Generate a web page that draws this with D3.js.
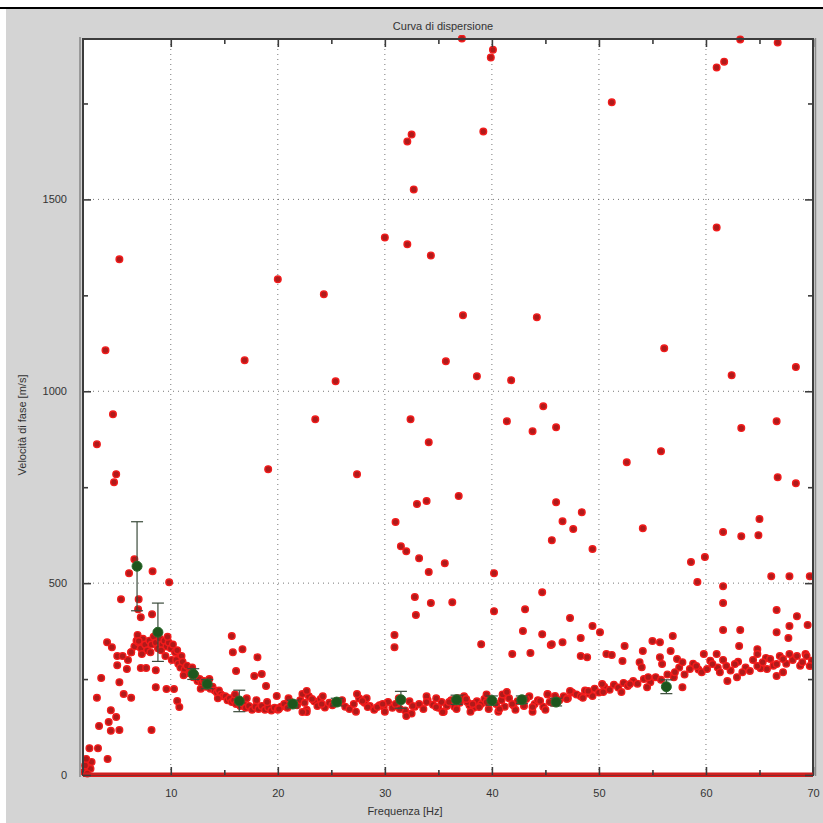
<!DOCTYPE html>
<html><head><meta charset="utf-8">
<script src="https://cdn.jsdelivr.net/npm/d3@7"></script>
<style>body{margin:0;background:#fff;}svg{display:block;}</style>
</head><body>
<script>
// ---------- DATA ----------
const title = "Curva di dispersione";
const xLabel = "Frequenza [Hz]";
const yLabel = "Velocità di fase [m/s]";
const xDomain = [1.8, 70];
const yDomain = [0, 1918];
const xMajorTicks = [10, 20, 30, 40, 50, 60, 70];
const xMinorTicks = [15, 25, 35, 45, 55, 65];
const yMajorTicks = [0, 500, 1000, 1500];
const yMinorTicks = [250, 750, 1250, 1750];
const xGrid = [10, 20, 30, 40, 50, 60];
const yGrid = [500, 1000, 1500];

// scattered picks (frequency Hz, velocity m/s)
const outlierF = [37.2,39.9,40.1,63.2,66.7,61.0,61.7,51.2,32.1,32.5,39.2,32.7,30.0,32.1,34.3,5.2,61.0,20.0,24.3,37.3,44.2,3.9,56.1,16.9,35.7,62.4,68.4,25.4,38.6,41.8,4.6,23.5,32.4,41.4,44.8,43.8,46.0,63.3,66.6,34.1,3.1,4.9,4.7,19.1,27.4,36.9,52.6,55.8,66.7,68.4,
  33.0,33.9,31.0,31.5,32.0,33.2,34.1,35.6,40.2,45.6,32.8,34.3,36.3,32.9,40.2,30.9,30.9,39.0,44.7,43.1,42.9,44.7,45.5,41.9,43.6,
  46.0,46.6,47.6,48.4,49.4,54.1,65.0,61.6,63.3,64.9,58.6,59.9,59.2,61.6,61.6,66.1,67.8,69.7,66.6,68.5,67.8,69.5,66.6,67.7,61.6,63.2,63.1,64.8,59.8,61.0,
  45.6,46.6,47.3,48.3,49.4,50.1,48.3,48.9,50.7,51.2,52.4,52.2,54.1,55.0,55.7,56.9,56.7,53.8,54.0,55.7,55.9,54.6,54.5,52.9,52.1,50.3,50.4,49.4,49.0,48.5,47.3,47.0,45.9,45.4,
  57.8,57.1,57.3,57.8,58.5,59.1,59.6,60.1,60.6,61.3,61.9,62.0,62.7,62.9,63.4,64.1,64.8,64.8,65.3,66.0,66.6,67.2,67.2,67.8,68.5,69.0,69.4,69.7,66.6,65.7,
  6.6,6.1,8.3,9.85,5.35,7.0,7.2,8.25,6.95,7.0,4.05,4.5,6.3,5.0,5.5,5.0,5.9,7.2,7.7,8.6,3.5,5.2,8.6,9.6,10.3,5.6,6.3,3.1,10.6,10.8,4.4,4.9,3.3,4.2,4.4,5.2,8.2,2.4,3.2,4.1,2.6,2.5,1.9,2.0,2.1,2.2,
  15.7,15.8,16.7,18.1,16.1,17.8,18.5,18.9,19.9,22.3,20.1,22.7,22.3,22.7,23.2,24.1,27.4,27.9,28.4,29.3,29.8,32.0,31.4,32.6,33.9,34.8,35.4,36.0,36.7,37.6,38.2,38.8,39.5,40.7,41.4,41.9,43.2,43.8,44.5,45.2];
const outlierV = [1919,1870,1890,1917,1909,1844,1859,1753,1651,1669,1677,1526,1401,1383,1354,1344,1427,1292,1253,1198,1193,1107,1112,1081,1078,1042,1063,1026,1039,1029,940,927,927,922,961,896,906,904,922,867,862,784,763,797,784,727,815,844,776,760,
  706,714,659,596,583,565,529,552,526,612,464,448,450,417,427,365,333,341,476,432,375,367,339,315,318,
  711,661,641,685,589,643,667,633,622,625,555,568,503,492,448,518,518,518,430,414,388,391,372,357,378,378,336,328,315,315,
  341,346,409,357,388,372,310,307,315,313,336,297,323,349,346,362,323,294,281,307,289,255,229,237,216,237,216,206,219,201,219,198,206,190,
  229,268,302,294,276,284,268,276,289,268,284,245,289,255,268,271,284,315,294,302,289,302,268,315,310,294,310,284,258,276,
  562,526,531,502,458,458,411,419,432,349,346,333,320,310,310,286,276,279,279,273,253,242,229,224,224,211,201,201,193,177,169,151,128,138,115,117,117,70,70,42,34,16,8,25,42,4,
  362,320,328,307,271,258,263,232,206,211,172,164,164,219,198,185,211,193,177,177,185,154,172,180,190,177,164,190,172,198,185,177,190,172,216,185,198,177,193,211];

// dense dispersion band (frequency Hz, velocity m/s)
const bandF = [6.0,6.3,6.6,6.8,7.0,7.2,7.4,7.6,7.8,8.0,8.2,8.4,8.6,8.8,9.0,9.2,9.4,9.6,9.8,10.0,10.2,10.4,10.6,10.8,11.0,7.3,8.1,9.1,9.5,10.1,6.9,8.7,9.7,
  10.5,10.7,10.9,11.1,11.3,11.5,11.7,11.9,12.1,12.3,12.5,12.7,12.9,13.1,13.3,13.5,13.7,13.9,14.1,14.3,14.5,14.7,14.9,11.2,12.0,12.8,13.6,14.4,
  15.1,15.3,15.5,15.7,15.9,16.1,16.3,16.5,16.8,17.0,17.3,17.6,17.9,18.2,18.5,18.8,19.1,19.4,19.7,20.0,16.0,17.1,18.0,19.0,
  20.3,20.6,20.9,21.2,21.8,22.1,22.5,22.9,23.4,23.7,24.0,24.4,24.8,25.1,25.9,26.3,26.7,27.1,27.6,28.1,28.6,29.0,29.5,29.9,30.3,30.7,31.0,31.9,32.3,32.8,33.2,33.6,34.0,34.5,35.0,35.3,35.8,36.2,36.5,37.0,37.4,37.9,38.3,38.6,39.0,39.3,39.7,40.4,40.9,41.2,41.6,42.0,42.4,43.0,43.5,44.0,44.3,44.8,45.2,45.7,
  21.0,22.7,24.2,26.0,27.3,28.3,30.0,31.3,32.5,33.9,35.5,36.8,38.0,39.5,40.6,42.2,43.8,45.0,34.8,37.7,41.0,
  46.3,46.7,47.1,47.5,47.9,48.3,48.7,49.1,49.6,50.0,50.5,51.0,51.4,51.8,52.3,52.7,53.2,53.6,54.2,54.8,55.3,55.8,56.4,57.0,
  57.5,58.0,58.8,59.3,60.4,61.1,61.6,62.3,63.0,63.7,64.4,65.1,65.6,66.3,66.9,67.5,68.1,68.8,69.3,69.9];
const bandV = [300,320,335,350,345,330,355,340,325,350,340,360,345,330,355,340,350,335,345,330,340,320,325,305,310,315,320,325,310,300,365,370,360,
  300,290,280,295,275,285,265,270,255,260,245,250,240,245,230,235,225,230,220,215,220,210,205,260,280,225,250,200,
  205,195,200,190,195,185,190,180,185,175,180,170,178,172,180,170,176,168,175,170,210,200,195,190,
  178,185,175,190,182,195,188,205,192,180,198,176,188,182,190,178,172,185,200,188,180,170,182,178,190,175,185,168,192,178,185,172,195,183,175,190,180,195,178,188,205,182,175,192,185,198,172,185,195,178,200,182,192,180,205,185,195,178,210,188,
  200,170,205,195,165,200,165,200,160,205,165,200,165,210,165,170,165,170,200,190,210,
  195,205,200,215,210,205,220,212,225,215,230,222,235,228,240,232,245,238,250,242,255,248,262,255,
  280,262,290,275,298,280,300,272,295,280,300,278,305,285,310,290,300,285,315,298];

// zero-velocity picks along the bottom
const zeroF = [1.8, 70];
const zeroV = [0, 0];

// averaged curve with error bars
const meanF = [6.85, 8.8, 12.1, 13.4, 16.4, 21.4, 25.5, 31.5, 36.7, 40.0, 42.8, 46.0, 56.3];
const meanV = [544, 372, 263, 237, 193, 185, 190, 196, 196, 194, 196, 190, 230];
const meanErr = [116, 76, 14, 12, 28, 10, 10, 22, 12, 12, 10, 10, 18];

// ---------- LAYOUT ----------
const W = 823, H = 823;
const M = {left: 83, top: 39, right: 10, bottom: 48};
const pw = W - M.left - M.right, ph = H - M.top - M.bottom;

const svg = d3.select("body").append("svg").attr("width", W).attr("height", H);
// figure frame
svg.append("rect").attr("x", 0).attr("y", 0).attr("width", W).attr("height", H).attr("fill", "#fff");
svg.append("rect").attr("x", 6).attr("y", 9).attr("width", W - 6).attr("height", H - 9).attr("fill", "#d4d4d4");
svg.append("line").attr("x1", 0).attr("x2", W).attr("y1", 8).attr("y2", 8).attr("stroke", "#000").attr("stroke-width", 2);

const x = d3.scaleLinear().domain(xDomain).range([0, pw]);
const y = d3.scaleLinear().domain(yDomain).range([ph, 0]);

const g = svg.append("g").attr("transform", `translate(${M.left},${M.top})`);
g.append("rect").attr("width", pw).attr("height", ph).attr("fill", "#fff");

svg.append("defs").append("clipPath").attr("id", "clip")
  .append("rect").attr("x", -4).attr("y", -4).attr("width", pw + 4).attr("height", ph + 8);

// grid
g.append("g").selectAll("line").data(xGrid).join("line")
  .attr("x1", d => x(d)).attr("x2", d => x(d)).attr("y1", 0).attr("y2", ph)
  .attr("stroke", "#777").attr("stroke-width", 1).attr("stroke-dasharray", "1,4");
g.append("g").selectAll("line").data(yGrid).join("line")
  .attr("y1", d => y(d)).attr("y2", d => y(d)).attr("x1", 0).attr("x2", pw)
  .attr("stroke", "#777").attr("stroke-width", 1).attr("stroke-dasharray", "1,4");

const plot = g.append("g").attr("clip-path", "url(#clip)");

// zero picks line
plot.append("path").datum(d3.range(zeroF.length))
  .attr("d", d3.line().x(i => x(zeroF[i])).y(i => y(zeroV[i])))
  .attr("stroke", "#e01a1a").attr("stroke-width", 4).attr("fill", "none");

const red = [];
bandF.forEach((f, i) => red.push([f, bandV[i]]));
outlierF.forEach((f, i) => red.push([f, outlierV[i]]));

plot.append("g").selectAll("circle").data(red).join("circle")
  .attr("cx", d => x(d[0])).attr("cy", d => y(d[1])).attr("r", 3.3)
  .attr("fill", "#b01a1a").attr("stroke", "#f21c1c").attr("stroke-width", 1.4);

// error bars
const eb = plot.append("g").attr("stroke", "#3b4b3b").attr("stroke-width", 1.2);
meanF.forEach((f, i) => {
  const cx = x(f), y1 = y(meanV[i] + meanErr[i]), y2 = y(meanV[i] - meanErr[i]);
  eb.append("line").attr("x1", cx).attr("x2", cx).attr("y1", y1).attr("y2", y2);
  eb.append("line").attr("x1", cx - 6).attr("x2", cx + 6).attr("y1", y1).attr("y2", y1);
  eb.append("line").attr("x1", cx - 6).attr("x2", cx + 6).attr("y1", y2).attr("y2", y2);
});
plot.append("g").selectAll("circle").data(meanF).join("circle")
  .attr("cx", d => x(d)).attr("cy", (d, i) => y(meanV[i])).attr("r", 5)
  .attr("fill", "#1d561d").attr("stroke", "#2a6a2a").attr("stroke-width", 1);

// axes box
const axCol = "#3c3c3c";
g.append("rect").attr("width", pw).attr("height", ph).attr("fill", "none")
  .attr("stroke", axCol).attr("stroke-width", 2);
g.append("line").attr("x1", -3).attr("x2", -3).attr("y1", -2).attr("y2", ph + 2).attr("stroke", "#9a9a9a").attr("stroke-width", 2);
g.append("line").attr("x1", pw + 2.5).attr("x2", pw + 2.5).attr("y1", -1).attr("y2", ph + 1).attr("stroke", "#8a8a8a").attr("stroke-width", 1.5);
// redraw zero line on top of bottom axis
g.append("path").datum(d3.range(zeroF.length))
  .attr("d", d3.line().x(i => x(zeroF[i])).y(i => y(zeroV[i]) - 1))
  .attr("stroke", "#d01f1f").attr("stroke-width", 3).attr("fill", "none");

// ticks via d3 axes (inward)
const fontFam = "'Liberation Sans', Arial, sans-serif";
function styleAxis(sel) { sel.select(".domain").remove(); sel.selectAll("line").attr("stroke", axCol).attr("stroke-width", 1.6); }
g.append("g").attr("transform", `translate(0,${ph})`)
  .call(d3.axisBottom(x).tickValues(xMajorTicks).tickSize(-8).tickPadding(14).tickFormat(d3.format("d")))
  .call(styleAxis);
g.append("g").attr("transform", `translate(0,${ph})`)
  .call(d3.axisBottom(x).tickValues(xMinorTicks).tickSize(-5).tickFormat(""))
  .call(styleAxis);
g.append("g").call(d3.axisTop(x).tickValues(xMajorTicks).tickSize(-8).tickFormat("")).call(styleAxis);
g.append("g").call(d3.axisTop(x).tickValues(xMinorTicks).tickSize(-5).tickFormat("")).call(styleAxis);
g.append("g")
  .call(d3.axisLeft(y).tickValues(yMajorTicks).tickSize(-8).tickPadding(16).tickFormat(d3.format("d")))
  .call(styleAxis);
g.append("g").call(d3.axisLeft(y).tickValues(yMinorTicks).tickSize(-5).tickFormat("")).call(styleAxis);
g.append("g").attr("transform", `translate(${pw},0)`)
  .call(d3.axisRight(y).tickValues(yMajorTicks).tickSize(-8).tickFormat("")).call(styleAxis);
g.append("g").attr("transform", `translate(${pw},0)`)
  .call(d3.axisRight(y).tickValues(yMinorTicks).tickSize(-5).tickFormat("")).call(styleAxis);
g.selectAll(".tick text").attr("font-family", fontFam).attr("font-size", 11).attr("fill", "#333");

// texts
svg.append("text").attr("x", 443).attr("y", 30).attr("text-anchor", "middle")
  .attr("font-family", fontFam).attr("font-size", 11).attr("fill", "#333").text(title);
svg.append("text").attr("x", 405).attr("y", 815).attr("text-anchor", "middle")
  .attr("font-family", fontFam).attr("font-size", 11).attr("fill", "#333").text(xLabel);
svg.append("text").attr("transform", "translate(26,425) rotate(-90)").attr("text-anchor", "middle")
  .attr("font-family", fontFam).attr("font-size", 11).attr("fill", "#333").text(yLabel);
</script>
</body></html>
